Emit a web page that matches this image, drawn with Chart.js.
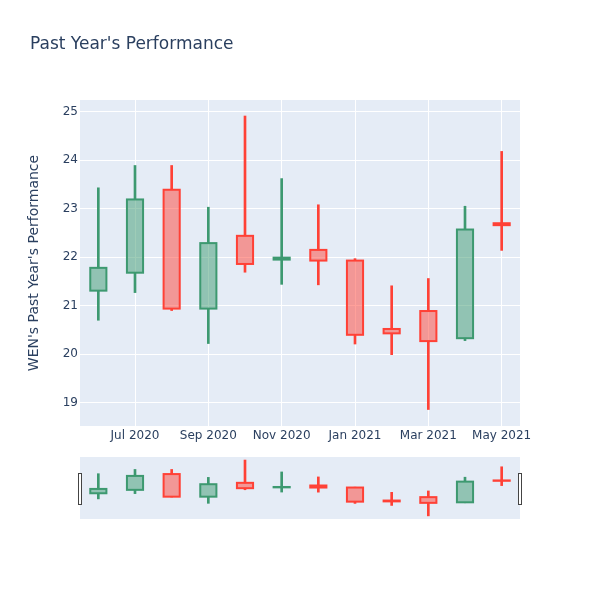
<!DOCTYPE html>
<html>
<head>
<meta charset="utf-8">
<script src="https://cdn.jsdelivr.net/npm/chart.js@4/dist/chart.umd.min.js"></script>
<style>
    html, body { margin: 0; padding: 0; background: #fff; }
    #wrap { position: relative; width: 600px; height: 600px; font-family: "DejaVu Sans", sans-serif; }
    #title { position: absolute; left: 30px; top: 31px; font-size: 17px; line-height: 24px; color: #2a3f5f; white-space: nowrap; }
    #main { position: absolute; left: 0; top: 0; }
    #slider { position: absolute; left: 0; top: 457px; }
</style>
</head>
<body>
<div id="wrap">
    <canvas id="main" width="600" height="600"></canvas>
    <canvas id="slider" width="600" height="62"></canvas>
    <div id="title">Past Year's Performance</div>
</div>
<script>
const months = ['Jun 2020', 'Jul 2020', 'Aug 2020', 'Sep 2020', 'Oct 2020', 'Nov 2020',
                'Dec 2020', 'Jan 2021', 'Feb 2021', 'Mar 2021', 'Apr 2021', 'May 2021'];
const opens  = [21.31, 21.68, 23.39, 20.94, 22.44, 21.95, 22.15, 21.93, 20.52, 20.89, 20.33, 22.70];
const highs  = [23.43, 23.89, 23.89, 23.03, 24.91, 23.62, 23.08, 21.97, 21.41, 21.56, 23.05, 24.18];
const lows   = [20.70, 21.27, 20.90, 20.22, 21.69, 21.44, 21.43, 20.21, 19.99, 18.86, 20.28, 22.14];
const closes = [21.78, 23.19, 20.94, 22.29, 21.86, 21.99, 21.93, 20.40, 20.43, 20.27, 22.57, 22.66];
const yTicks = [19, 20, 21, 22, 23, 24, 25];
const yMin = 18.52;
const yMax = 25.24;

const UP = '#3D9970', UP_FILL = 'rgba(61,153,112,0.5)';
const DOWN = '#FF4136', DOWN_FILL = 'rgba(255,65,54,0.5)';
const textColor = '#2a3f5f';
const FONT = 'DejaVu Sans';

const isUp = i => closes[i] >= opens[i];
const lineColors = months.map((m, i) => isUp(i) ? UP : DOWN);
const fillColors = months.map((m, i) => isUp(i) ? UP_FILL : DOWN_FILL);

const plotBg = {
    id: 'plotBg',
    beforeDraw(chart) {
        const { ctx, chartArea: a } = chart;
        ctx.save();
        ctx.fillStyle = '#E5ECF6';
        ctx.fillRect(a.left, a.top, a.width, a.height);
        ctx.restore();
    }
};

// plotly strokes the box outline centred on its edge, so draw it here from the bar elements
const boxOutline = {
    id: 'boxOutline',
    afterDatasetsDraw(chart) {
        const { ctx } = chart;
        const meta = chart.getDatasetMeta(2);
        ctx.save();
        ctx.lineWidth = 2;
        meta.data.forEach((bar, i) => {
            const { x, y, base, width } = bar.getProps(['x', 'y', 'base', 'width'], true);
            ctx.strokeStyle = lineColors[i];
            ctx.strokeRect(x - width / 2, Math.min(y, base), width, Math.abs(base - y));
        });
        ctx.restore();
    }
};

function candleDatasets() {
    const wick = {
        barThickness: 2,
        backgroundColor: lineColors,
        borderWidth: 0,
        grouped: false
    };
    return [
        { ...wick, data: months.map((m, i) => [Math.max(opens[i], closes[i]), highs[i]]) },
        { ...wick, data: months.map((m, i) => [lows[i], Math.min(opens[i], closes[i])]) },
        {
            data: months.map((m, i) => [opens[i], closes[i]]),
            backgroundColor: fillColors,
            borderWidth: 0,
            barPercentage: 0.44,
            categoryPercentage: 1,
            inflateAmount: 0,
            grouped: false
        }
    ];
}

const baseOptions = {
    responsive: false,
    animation: false,
    events: [],
    plugins: { legend: { display: false }, tooltip: { enabled: false }, title: { display: false } }
};

new Chart(document.getElementById('main'), {
    type: 'bar',
    data: { labels: months, datasets: candleDatasets() },
    options: {
        ...baseOptions,
        layout: { padding: { top: 100, right: 80, bottom: 0, left: 0 } },
        scales: {
            x: {
                type: 'category',
                offset: true,
                border: { display: false },
                grid: {
                    offset: false,
                    drawTicks: false,
                    lineWidth: 1,
                    color: ctx => ctx.index % 2 === 1 ? '#ffffff' : 'rgba(0,0,0,0)'
                },
                ticks: {
                    autoSkip: false,
                    maxRotation: 0,
                    padding: 3,
                    color: textColor,
                    font: { family: FONT, size: 12 },
                    callback(v, i) { return i % 2 === 1 ? months[i] : ''; }
                },
                afterFit(s) { s.height = 174; }
            },
            y: {
                min: yMin,
                max: yMax,
                border: { display: false },
                grid: { color: '#ffffff', lineWidth: 1, drawTicks: false },
                afterBuildTicks(s) { s.ticks = yTicks.map(v => ({ value: v })); },
                ticks: {
                    padding: 2,
                    color: textColor,
                    font: { family: FONT, size: 12 }
                },
                title: {
                    display: true,
                    text: "WEN's Past Year's Performance",
                    color: textColor,
                    font: { family: FONT, size: 14 },
                    padding: { top: 26, bottom: 0 }
                },
                afterFit(s) { s.width = 80; }
            }
        }
    },
    plugins: [plotBg, boxOutline]
});

const handles = {
    id: 'handles',
    afterDraw(chart) {
        const { ctx, chartArea: a } = chart;
        ctx.save();
        ctx.fillStyle = '#ffffff';
        ctx.strokeStyle = '#444444';
        ctx.lineWidth = 1;
        [a.left, a.right].forEach(x => {
            ctx.fillRect(x - 2, 16.5, 4, 31);
            ctx.strokeRect(x - 1.5, 16.5, 3, 31);
        });
        ctx.restore();
    }
};

new Chart(document.getElementById('slider'), {
    type: 'bar',
    data: { labels: months, datasets: candleDatasets() },
    options: {
        ...baseOptions,
        layout: { padding: { top: 0, right: 80, bottom: 0, left: 80 } },
        scales: {
            x: { type: 'category', offset: true, display: false },
            y: { min: yMin, max: yMax, display: false }
        }
    },
    plugins: [plotBg, boxOutline, handles]
});
</script>
</body>
</html>
